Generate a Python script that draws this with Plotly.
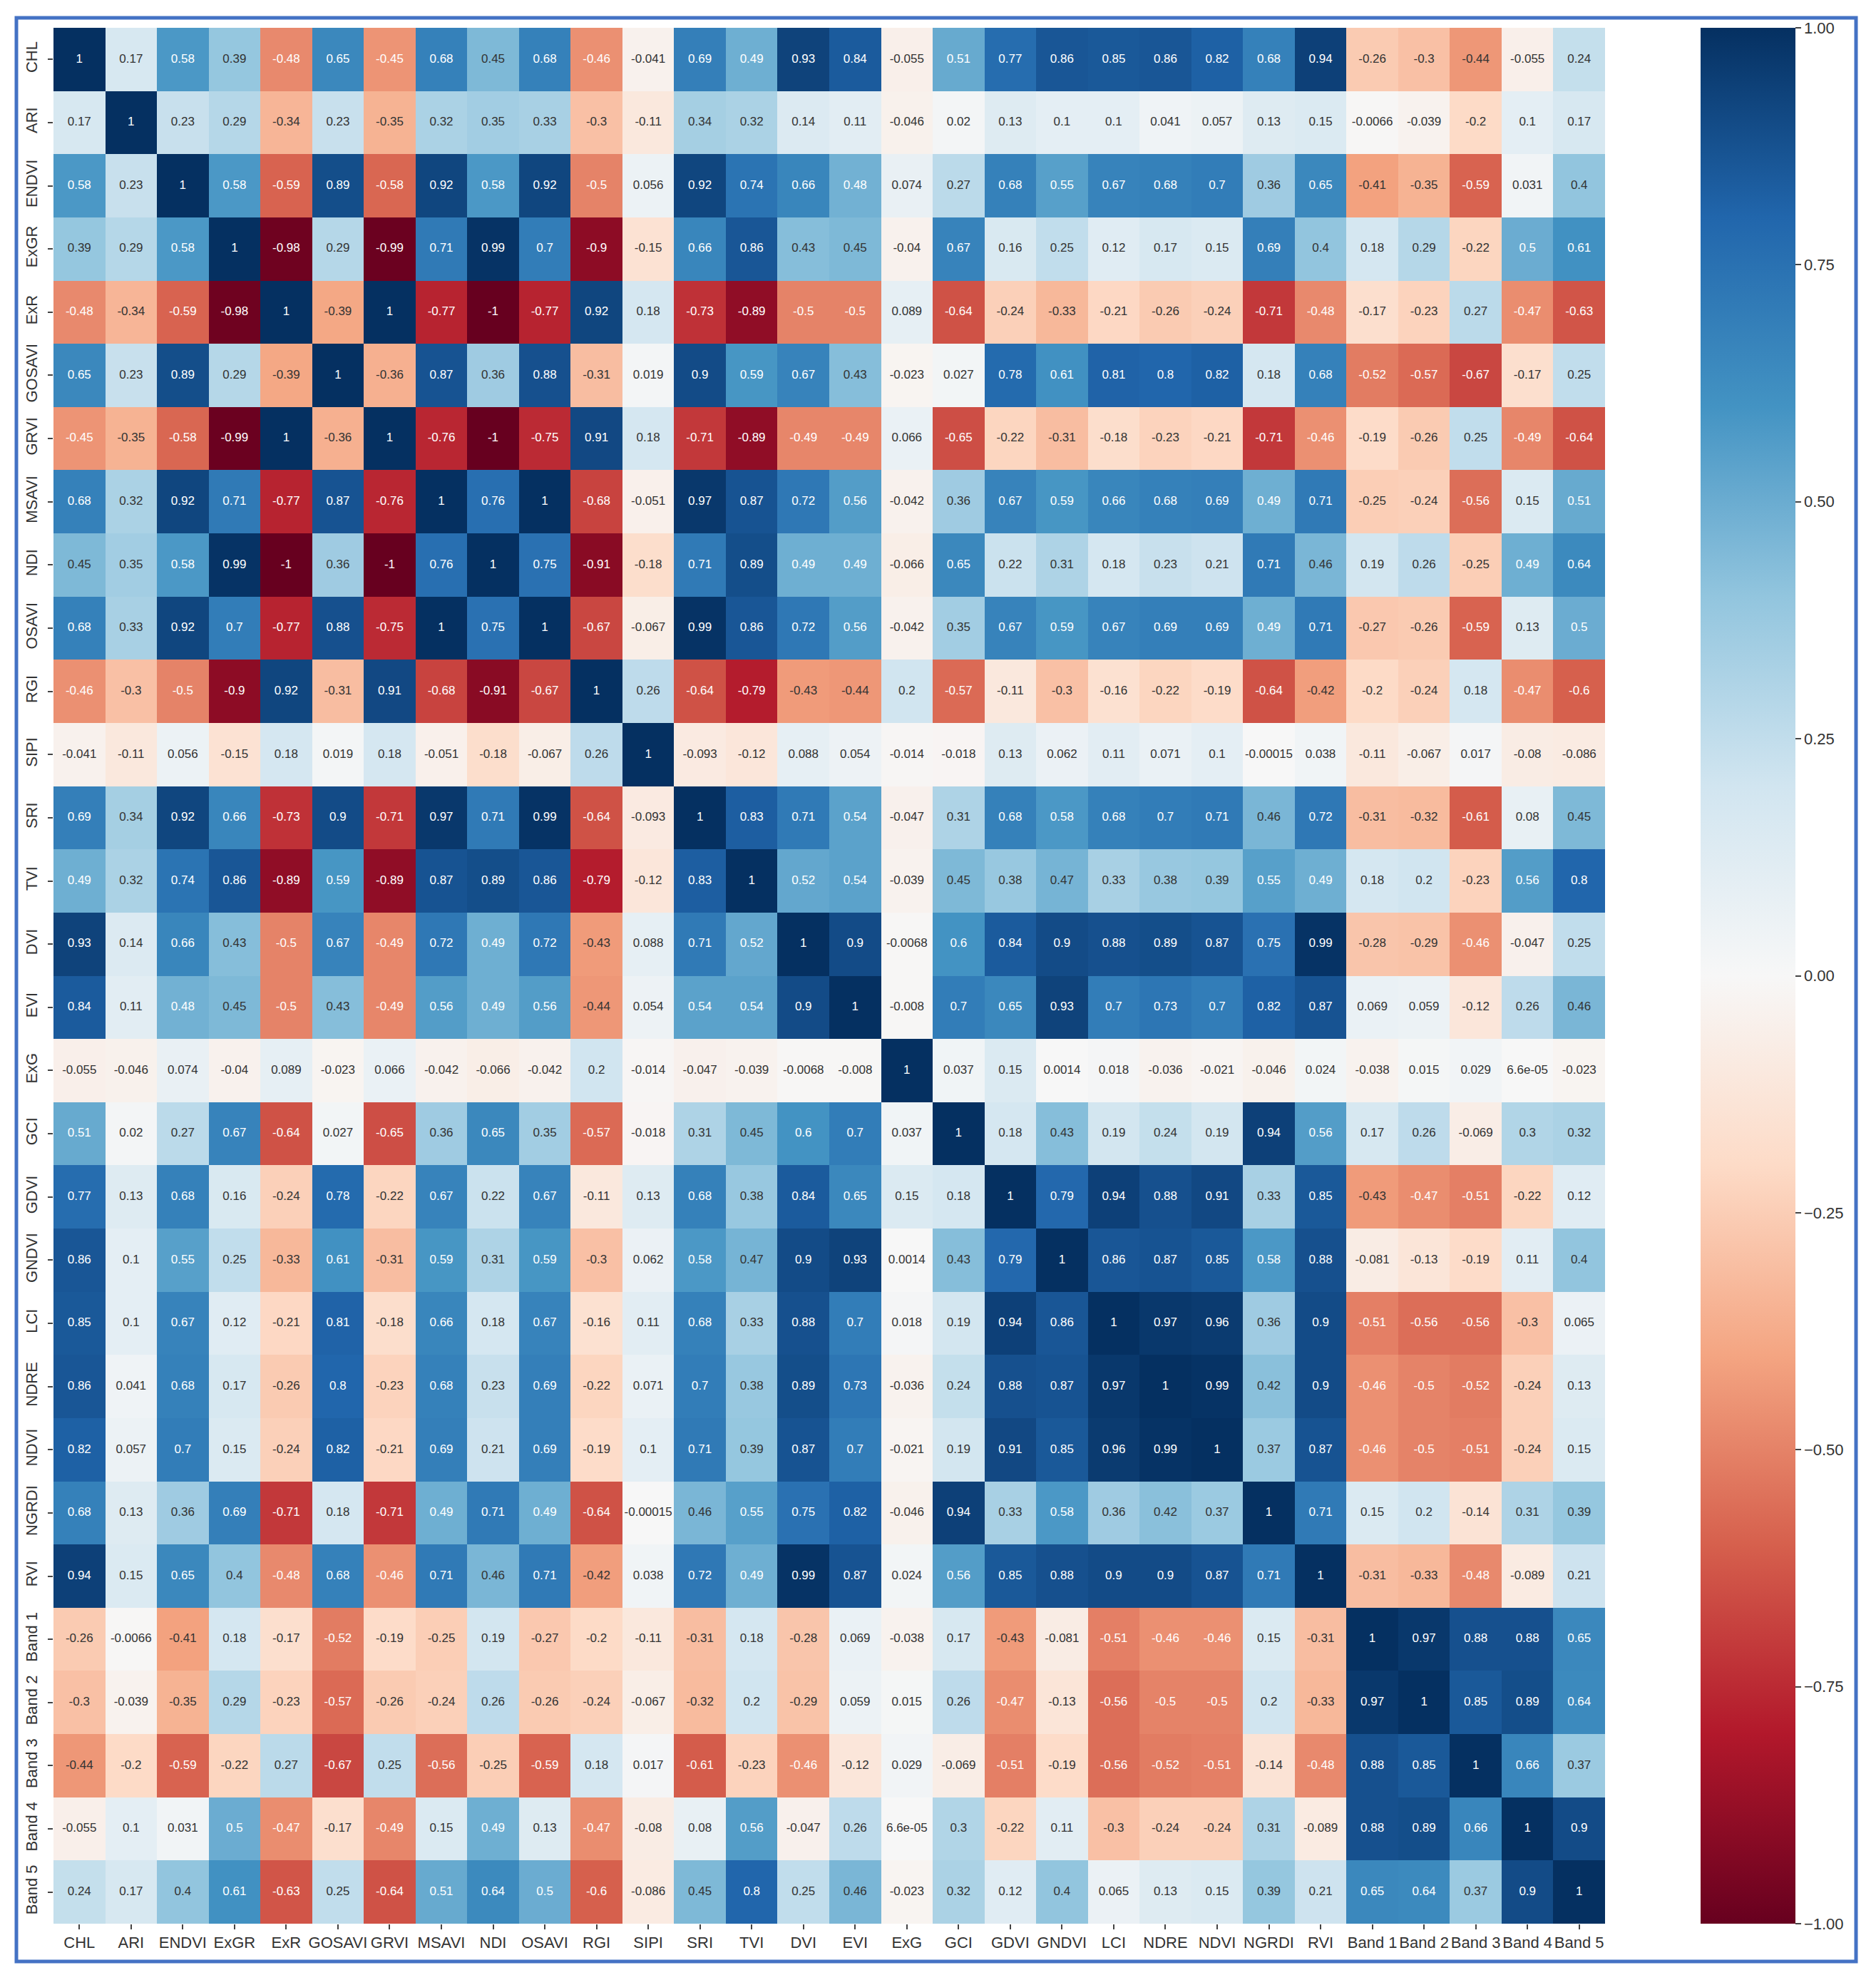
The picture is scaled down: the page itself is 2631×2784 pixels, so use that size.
import plotly.graph_objects as go

labels = ["CHL", "ARI", "ENDVI", "ExGR", "ExR", "GOSAVI", "GRVI", "MSAVI", "NDI", "OSAVI",
          "RGI", "SIPI", "SRI", "TVI", "DVI", "EVI", "ExG", "GCI", "GDVI", "GNDVI",
          "LCI", "NDRE", "NDVI", "NGRDI", "RVI", "Band 1", "Band 2", "Band 3", "Band 4", "Band 5"]

r_CHL = [1, 0.17, 0.58, 0.39, -0.48, 0.65, -0.45, 0.68, 0.45, 0.68, -0.46, -0.041, 0.69, 0.49, 0.93, 0.84, -0.055, 0.51, 0.77, 0.86, 0.85, 0.86, 0.82, 0.68, 0.94, -0.26, -0.3, -0.44, -0.055, 0.24]
r_ARI = [0.17, 1, 0.23, 0.29, -0.34, 0.23, -0.35, 0.32, 0.35, 0.33, -0.3, -0.11, 0.34, 0.32, 0.14, 0.11, -0.046, 0.02, 0.13, 0.1, 0.1, 0.041, 0.057, 0.13, 0.15, -0.0066, -0.039, -0.2, 0.1, 0.17]
r_ENDVI = [0.58, 0.23, 1, 0.58, -0.59, 0.89, -0.58, 0.92, 0.58, 0.92, -0.5, 0.056, 0.92, 0.74, 0.66, 0.48, 0.074, 0.27, 0.68, 0.55, 0.67, 0.68, 0.7, 0.36, 0.65, -0.41, -0.35, -0.59, 0.031, 0.4]
r_ExGR = [0.39, 0.29, 0.58, 1, -0.98, 0.29, -0.99, 0.71, 0.99, 0.7, -0.9, -0.15, 0.66, 0.86, 0.43, 0.45, -0.04, 0.67, 0.16, 0.25, 0.12, 0.17, 0.15, 0.69, 0.4, 0.18, 0.29, -0.22, 0.5, 0.61]
r_ExR = [-0.48, -0.34, -0.59, -0.98, 1, -0.39, 1, -0.77, -1, -0.77, 0.92, 0.18, -0.73, -0.89, -0.5, -0.5, 0.089, -0.64, -0.24, -0.33, -0.21, -0.26, -0.24, -0.71, -0.48, -0.17, -0.23, 0.27, -0.47, -0.63]
r_GOSAVI = [0.65, 0.23, 0.89, 0.29, -0.39, 1, -0.36, 0.87, 0.36, 0.88, -0.31, 0.019, 0.9, 0.59, 0.67, 0.43, -0.023, 0.027, 0.78, 0.61, 0.81, 0.8, 0.82, 0.18, 0.68, -0.52, -0.57, -0.67, -0.17, 0.25]
r_GRVI = [-0.45, -0.35, -0.58, -0.99, 1, -0.36, 1, -0.76, -1, -0.75, 0.91, 0.18, -0.71, -0.89, -0.49, -0.49, 0.066, -0.65, -0.22, -0.31, -0.18, -0.23, -0.21, -0.71, -0.46, -0.19, -0.26, 0.25, -0.49, -0.64]
r_MSAVI = [0.68, 0.32, 0.92, 0.71, -0.77, 0.87, -0.76, 1, 0.76, 1, -0.68, -0.051, 0.97, 0.87, 0.72, 0.56, -0.042, 0.36, 0.67, 0.59, 0.66, 0.68, 0.69, 0.49, 0.71, -0.25, -0.24, -0.56, 0.15, 0.51]
r_NDI = [0.45, 0.35, 0.58, 0.99, -1, 0.36, -1, 0.76, 1, 0.75, -0.91, -0.18, 0.71, 0.89, 0.49, 0.49, -0.066, 0.65, 0.22, 0.31, 0.18, 0.23, 0.21, 0.71, 0.46, 0.19, 0.26, -0.25, 0.49, 0.64]
r_OSAVI = [0.68, 0.33, 0.92, 0.7, -0.77, 0.88, -0.75, 1, 0.75, 1, -0.67, -0.067, 0.99, 0.86, 0.72, 0.56, -0.042, 0.35, 0.67, 0.59, 0.67, 0.69, 0.69, 0.49, 0.71, -0.27, -0.26, -0.59, 0.13, 0.5]
r_RGI = [-0.46, -0.3, -0.5, -0.9, 0.92, -0.31, 0.91, -0.68, -0.91, -0.67, 1, 0.26, -0.64, -0.79, -0.43, -0.44, 0.2, -0.57, -0.11, -0.3, -0.16, -0.22, -0.19, -0.64, -0.42, -0.2, -0.24, 0.18, -0.47, -0.6]
r_SIPI = [-0.041, -0.11, 0.056, -0.15, 0.18, 0.019, 0.18, -0.051, -0.18, -0.067, 0.26, 1, -0.093, -0.12, 0.088, 0.054, -0.014, -0.018, 0.13, 0.062, 0.11, 0.071, 0.1, -0.00015, 0.038, -0.11, -0.067, 0.017, -0.08, -0.086]
r_SRI = [0.69, 0.34, 0.92, 0.66, -0.73, 0.9, -0.71, 0.97, 0.71, 0.99, -0.64, -0.093, 1, 0.83, 0.71, 0.54, -0.047, 0.31, 0.68, 0.58, 0.68, 0.7, 0.71, 0.46, 0.72, -0.31, -0.32, -0.61, 0.08, 0.45]
r_TVI = [0.49, 0.32, 0.74, 0.86, -0.89, 0.59, -0.89, 0.87, 0.89, 0.86, -0.79, -0.12, 0.83, 1, 0.52, 0.54, -0.039, 0.45, 0.38, 0.47, 0.33, 0.38, 0.39, 0.55, 0.49, 0.18, 0.2, -0.23, 0.56, 0.8]
r_DVI = [0.93, 0.14, 0.66, 0.43, -0.5, 0.67, -0.49, 0.72, 0.49, 0.72, -0.43, 0.088, 0.71, 0.52, 1, 0.9, -0.0068, 0.6, 0.84, 0.9, 0.88, 0.89, 0.87, 0.75, 0.99, -0.28, -0.29, -0.46, -0.047, 0.25]
r_EVI = [0.84, 0.11, 0.48, 0.45, -0.5, 0.43, -0.49, 0.56, 0.49, 0.56, -0.44, 0.054, 0.54, 0.54, 0.9, 1, -0.008, 0.7, 0.65, 0.93, 0.7, 0.73, 0.7, 0.82, 0.87, 0.069, 0.059, -0.12, 0.26, 0.46]
r_ExG = [-0.055, -0.046, 0.074, -0.04, 0.089, -0.023, 0.066, -0.042, -0.066, -0.042, 0.2, -0.014, -0.047, -0.039, -0.0068, -0.008, 1, 0.037, 0.15, 0.0014, 0.018, -0.036, -0.021, -0.046, 0.024, -0.038, 0.015, 0.029, 6.6e-05, -0.023]
r_GCI = [0.51, 0.02, 0.27, 0.67, -0.64, 0.027, -0.65, 0.36, 0.65, 0.35, -0.57, -0.018, 0.31, 0.45, 0.6, 0.7, 0.037, 1, 0.18, 0.43, 0.19, 0.24, 0.19, 0.94, 0.56, 0.17, 0.26, -0.069, 0.3, 0.32]
r_GDVI = [0.77, 0.13, 0.68, 0.16, -0.24, 0.78, -0.22, 0.67, 0.22, 0.67, -0.11, 0.13, 0.68, 0.38, 0.84, 0.65, 0.15, 0.18, 1, 0.79, 0.94, 0.88, 0.91, 0.33, 0.85, -0.43, -0.47, -0.51, -0.22, 0.12]
r_GNDVI = [0.86, 0.1, 0.55, 0.25, -0.33, 0.61, -0.31, 0.59, 0.31, 0.59, -0.3, 0.062, 0.58, 0.47, 0.9, 0.93, 0.0014, 0.43, 0.79, 1, 0.86, 0.87, 0.85, 0.58, 0.88, -0.081, -0.13, -0.19, 0.11, 0.4]
r_LCI = [0.85, 0.1, 0.67, 0.12, -0.21, 0.81, -0.18, 0.66, 0.18, 0.67, -0.16, 0.11, 0.68, 0.33, 0.88, 0.7, 0.018, 0.19, 0.94, 0.86, 1, 0.97, 0.96, 0.36, 0.9, -0.51, -0.56, -0.56, -0.3, 0.065]
r_NDRE = [0.86, 0.041, 0.68, 0.17, -0.26, 0.8, -0.23, 0.68, 0.23, 0.69, -0.22, 0.071, 0.7, 0.38, 0.89, 0.73, -0.036, 0.24, 0.88, 0.87, 0.97, 1, 0.99, 0.42, 0.9, -0.46, -0.5, -0.52, -0.24, 0.13]
r_NDVI = [0.82, 0.057, 0.7, 0.15, -0.24, 0.82, -0.21, 0.69, 0.21, 0.69, -0.19, 0.1, 0.71, 0.39, 0.87, 0.7, -0.021, 0.19, 0.91, 0.85, 0.96, 0.99, 1, 0.37, 0.87, -0.46, -0.5, -0.51, -0.24, 0.15]
r_NGRDI = [0.68, 0.13, 0.36, 0.69, -0.71, 0.18, -0.71, 0.49, 0.71, 0.49, -0.64, -0.00015, 0.46, 0.55, 0.75, 0.82, -0.046, 0.94, 0.33, 0.58, 0.36, 0.42, 0.37, 1, 0.71, 0.15, 0.2, -0.14, 0.31, 0.39]
r_RVI = [0.94, 0.15, 0.65, 0.4, -0.48, 0.68, -0.46, 0.71, 0.46, 0.71, -0.42, 0.038, 0.72, 0.49, 0.99, 0.87, 0.024, 0.56, 0.85, 0.88, 0.9, 0.9, 0.87, 0.71, 1, -0.31, -0.33, -0.48, -0.089, 0.21]
r_B1 = [-0.26, -0.0066, -0.41, 0.18, -0.17, -0.52, -0.19, -0.25, 0.19, -0.27, -0.2, -0.11, -0.31, 0.18, -0.28, 0.069, -0.038, 0.17, -0.43, -0.081, -0.51, -0.46, -0.46, 0.15, -0.31, 1, 0.97, 0.88, 0.88, 0.65]
r_B2 = [-0.3, -0.039, -0.35, 0.29, -0.23, -0.57, -0.26, -0.24, 0.26, -0.26, -0.24, -0.067, -0.32, 0.2, -0.29, 0.059, 0.015, 0.26, -0.47, -0.13, -0.56, -0.5, -0.5, 0.2, -0.33, 0.97, 1, 0.85, 0.89, 0.64]
r_B3 = [-0.44, -0.2, -0.59, -0.22, 0.27, -0.67, 0.25, -0.56, -0.25, -0.59, 0.18, 0.017, -0.61, -0.23, -0.46, -0.12, 0.029, -0.069, -0.51, -0.19, -0.56, -0.52, -0.51, -0.14, -0.48, 0.88, 0.85, 1, 0.66, 0.37]
r_B4 = [-0.055, 0.1, 0.031, 0.5, -0.47, -0.17, -0.49, 0.15, 0.49, 0.13, -0.47, -0.08, 0.08, 0.56, -0.047, 0.26, 6.6e-05, 0.3, -0.22, 0.11, -0.3, -0.24, -0.24, 0.31, -0.089, 0.88, 0.89, 0.66, 1, 0.9]
r_B5 = [0.24, 0.17, 0.4, 0.61, -0.63, 0.25, -0.64, 0.51, 0.64, 0.5, -0.6, -0.086, 0.45, 0.8, 0.25, 0.46, -0.023, 0.32, 0.12, 0.4, 0.065, 0.13, 0.15, 0.39, 0.21, 0.65, 0.64, 0.37, 0.9, 1]

corr = [r_CHL, r_ARI, r_ENDVI, r_ExGR, r_ExR, r_GOSAVI, r_GRVI, r_MSAVI, r_NDI, r_OSAVI,
        r_RGI, r_SIPI, r_SRI, r_TVI, r_DVI, r_EVI, r_ExG, r_GCI, r_GDVI, r_GNDVI,
        r_LCI, r_NDRE, r_NDVI, r_NGRDI, r_RVI, r_B1, r_B2, r_B3, r_B4, r_B5]

cbar_ticks = [-1.0, -0.75, -0.5, -0.25, 0.0, 0.25, 0.5, 0.75, 1.0]

rdbu = [(103, 0, 31), (178, 24, 43), (214, 96, 77), (244, 165, 130), (253, 219, 199),
        (247, 247, 247), (209, 229, 240), (146, 197, 222), (67, 147, 195), (33, 102, 172), (5, 48, 97)]
colorscale = [[i / 10, "rgb(%d,%d,%d)" % c] for i, c in enumerate(rdbu)]


def color_at(v):
    t = (v + 1) / 2 * 10
    i = min(int(t), 9)
    f = t - i
    a, b = rdbu[i], rdbu[i + 1]
    return [(a[k] + (b[k] - a[k]) * f) / 255 for k in range(3)]


def lum(rgb):
    lin = [c / 12.92 if c <= 0.03928 else ((c + 0.055) / 1.055) ** 2.4 for c in rgb]
    return 0.2126 * lin[0] + 0.7152 * lin[1] + 0.0722 * lin[2]


W, H = 2631, 2784
L, R, T, B = 75, 2251, 39, 2698
pw, ph = R - L, B - T
n = len(labels)

fig = go.Figure()
fig.add_trace(go.Heatmap(
    z=corr, x=labels, y=labels, colorscale=colorscale, zmin=-1, zmax=1,
    hoverinfo="skip",
    colorbar=dict(
        x=(2385 - L) / pw, xanchor="left", y=0, yanchor="bottom",
        lenmode="fraction", len=1.0,
        thickness=133, outlinewidth=0, ticks="outside", ticklen=8, tickwidth=2,
        tickcolor="#444", tickvals=cbar_ticks,
        ticktext=[("%.2f" % v).replace("-", "\u2212") for v in cbar_ticks],
        tickfont=dict(size=22, color="#333", family="Liberation Sans, Arial"),
        xpad=0, ypad=0,
    ),
))

xs, ys, txt, cols = [], [], [], []
for i, row in enumerate(corr):
    for j, v in enumerate(row):
        xs.append(labels[j])
        ys.append(labels[i])
        txt.append(format(v, ".2g"))
        cols.append("#333333" if lum(color_at(v)) > 0.408 else "white")

fig.add_trace(go.Scatter(
    x=xs, y=ys, mode="text", text=txt, hoverinfo="skip", showlegend=False,
    textfont=dict(size=17, color=cols, family="Liberation Sans, Arial"),
))

fig.add_shape(type="rect", xref="paper", yref="paper",
              x0=(23 - L) / pw, x1=(2603 - L) / pw,
              y0=(B - 2751) / ph, y1=(B - 25) / ph,
              line=dict(color="#4472C4", width=5), fillcolor="rgba(0,0,0,0)")

fig.update_layout(
    width=W, height=H, margin=dict(l=L, r=W - R, t=T, b=H - B, autoexpand=False),
    paper_bgcolor="white", plot_bgcolor="white", showlegend=False,
    font=dict(family="Liberation Sans, Arial", color="#333"),
    xaxis=dict(type="category", range=[-0.5, n - 0.5], autorange=False, showgrid=False,
               zeroline=False, ticks="outside", showline=False,
               ticklen=7, tickwidth=2, tickcolor="#444", tickangle=0,
               tickfont=dict(size=22, color="#333")),
    yaxis=dict(type="category", range=[n - 0.5, -0.5], autorange=False, showgrid=False,
               zeroline=False, showline=False,
               ticks="outside", ticklen=7, tickwidth=2, tickcolor="#444", tickangle=-90,
               ticklabelstandoff=6,
               tickfont=dict(size=22, color="#333")),
)

fig.write_html("out.html", config={"displayModeBar": False},
               post_script="document.body.style.margin='0';")
